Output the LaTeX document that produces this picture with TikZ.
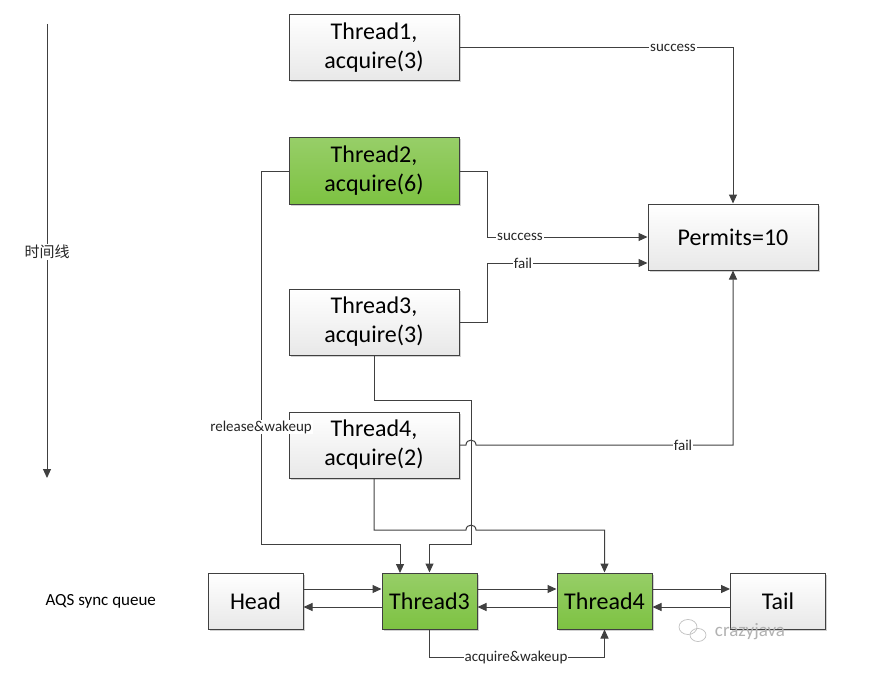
\documentclass[tikz,border=0pt]{standalone}
\usepackage{fontspec}
\setmainfont{Carlito}
\newfontfamily\cjk{Noto Sans CJK SC}
\usetikzlibrary{arrows.meta,shadows}
\definecolor{ln}{HTML}{404040}
\definecolor{grn}{HTML}{7DC242}
\begin{document}
\begin{tikzpicture}[x=1pt,y=-1pt,
 box/.style={draw=ln, line width=1pt, top color=white, bottom color=black!9, minimum width=170pt, minimum height=66pt, align=center, font=\fontsize{24}{29}\selectfont, inner sep=0pt, drop shadow={shadow xshift=1.5pt, shadow yshift=-1.5pt, opacity=0.18, fill=black}},
 gbox/.style={box, top color=grn!80!white, bottom color=grn},
 qbox/.style={box, minimum width=95pt, minimum height=56pt},
 gqbox/.style={gbox, minimum width=95pt, minimum height=56pt},
 con/.style={draw=ln, line width=1pt},
 arr/.style={con, -{Triangle[length=9pt,width=8pt]}},
 lbl/.style={fill=white, inner sep=1pt, font=\fontsize{15}{17}\selectfont, text=black!85}]
\useasboundingbox (0,0) rectangle (886,682);

% timeline
\coordinate (tlA) at (47,24);
\coordinate (tlB) at (47,478);
\draw[arr] (tlA) -- (tlB);
\node[lbl, font=\cjk\fontsize{15}{17}\selectfont] (tl) at (47,252) {时间线};
\node[anchor=west, font=\fontsize{17}{20}\selectfont] (aqs) at (42,601) {AQS sync queue};

% boxes
\node[box]  (T1) at (374,48)  {Thread1,\\acquire(3)};
\node[gbox] (T2) at (374,171) {Thread2,\\acquire(6)};
\node[box]  (T3) at (374,322) {Thread3,\\acquire(3)};
\node[box]  (T4) at (374,445) {Thread4,\\acquire(2)};
\node[box]  (P)  at (733,237) {Permits=10};

\node[qbox]  (H)  at (255.5,601) {Head};
\node[gqbox] (Q3) at (429.5,601) {Thread3};
\node[gqbox] (Q4) at (604.5,601) {Thread4};
\node[qbox]  (TL) at (778,601)   {Tail};

% thread -> permits
\draw[arr] (T1.east) -- (733,48) -- (P.north);
\node[lbl] (l1) at (673,48) {success};
\draw[arr] (T2.east) -- (487,171) |- (P.west);
\node[lbl] (l2) at (520,237) {success};
\draw[arr] (T3.east) -- (487,322) -- (487,263) -- (P.west |- 0,263);
\node[lbl] (l3) at (523,263) {fail};
\draw[arr] (T4.east) -- (466,445) .. controls (466,438.5) and (476,438.5) .. (476,445) -- (733,445) -- (P.south);
\node[lbl] (l4) at (683,445) {fail};

% threads -> queue
\draw[arr] (T2.west) -- (261,171) -- (261,544) -- (400,544) -- (400,573);
\node[lbl] (l5) at (261,427) {release\&wakeup};
\draw[arr] (T3.south) -- (374,400) -- (471,400) -- (471,544) -- (429.5,544) -- (Q3.north);
\draw[arr] (T4.south) -- (374,530) -- (466,530) .. controls (466,523.5) and (476,523.5) .. (476,530) -- (604.5,530) -- (Q4.north);

% queue links
\draw[arr] (H.east |- 0,589) -- (Q3.west |- 0,589);
\draw[arr] (Q3.west |- 0,607) -- (H.east |- 0,607);
\draw[arr] (Q3.east |- 0,589) -- (Q4.west |- 0,589);
\draw[arr] (Q4.west |- 0,607) -- (Q3.east |- 0,607);
\draw[arr] (Q4.east |- 0,589) -- (TL.west |- 0,589);
\draw[arr] (TL.west |- 0,607) -- (Q4.east |- 0,607);

\draw[arr] (Q3.south) -- (429.5,657) -- (604.5,657) -- (Q4.south);
\node[lbl] (l6) at (516,657) {acquire\&wakeup};

% watermark
\node[text=black!30, font=\fontsize{19}{21}\selectfont] (wm) at (750,632) {crazyjava};
\draw[black!25, line width=0.7pt] (688,627) ellipse [x radius=9, y radius=7.5];
\draw[black!25, line width=0.7pt] (698,635) ellipse [x radius=8, y radius=6.5];
\end{tikzpicture}
\end{document}
